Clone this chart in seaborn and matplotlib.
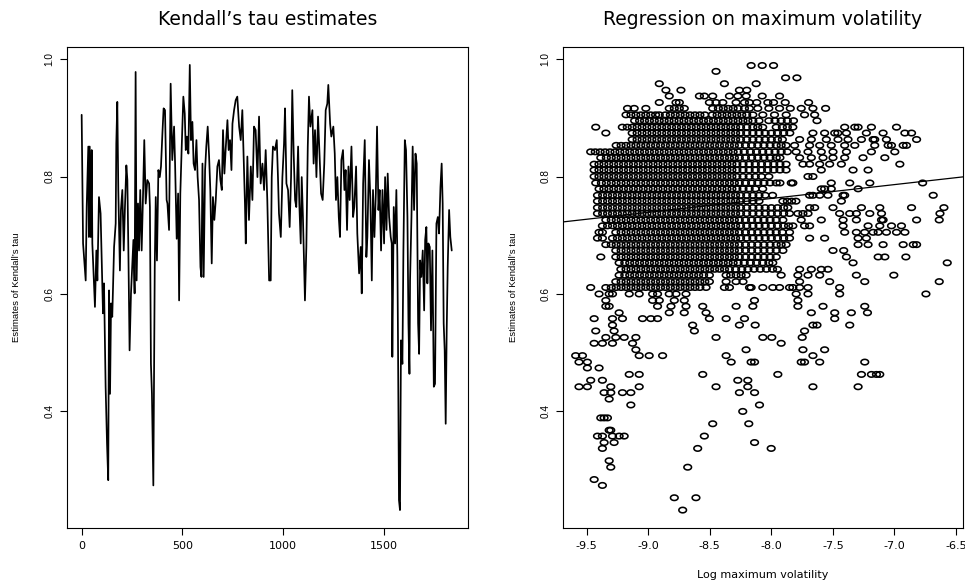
import numpy as np
import pandas as pd
import matplotlib
matplotlib.use("Agg")
import matplotlib.pyplot as plt
import seaborn as sns
from matplotlib.path import Path

# Kendall's tau estimate (turning points of the line)
series_day = [
    0, 7, 20, 25, 33, 36, 40, 45, 50, 53, 61, 66, 73, 78, 86, 94, 99, 106, 111, 119,
    126, 132, 136, 141, 146, 152, 161, 169, 172, 177, 182, 190, 195, 202, 209, 215, 222, 227, 232, 238,
    245, 252, 257, 263, 268, 273, 280, 285, 291, 298, 305, 311, 318, 326, 335, 339, 344, 349, 356, 363,
    368, 374, 381, 388, 394, 401, 407, 414, 422,
    426, 434, 442, 450, 459, 464, 472, 479, 484, 490, 497, 505, 512, 517, 523, 530, 537, 543, 550, 556,
    563, 570, 576, 583, 590, 595, 600, 606, 613, 619, 626, 633, 639, 646, 652, 659, 666, 674, 682, 689,
    696, 702, 709, 715, 724, 730, 737, 744, 749, 757, 765, 773, 782, 790, 798, 805, 811, 815, 823, 831,
    840, 848, 856, 864, 873, 881, 889, 898, 906, 914, 922,
    931, 939, 944, 950, 960, 969, 975, 980, 989, 997, 1005, 1010, 1017, 1025, 1033, 1040, 1046, 1053, 1060, 1066,
    1075, 1081, 1088, 1093, 1099, 1109, 1116, 1123, 1129, 1136, 1146, 1152, 1159, 1166, 1174, 1182, 1189, 1197, 1205, 1212,
    1220, 1225, 1234, 1240, 1250, 1257, 1263, 1270, 1277, 1283, 1290, 1298, 1305, 1311, 1318, 1325, 1331, 1340, 1348, 1354,
    1363, 1369, 1378, 1386, 1391, 1398, 1406, 1414,
    1419, 1427, 1434, 1441, 1447, 1454, 1461, 1467, 1474, 1480, 1487, 1494, 1502, 1507, 1514, 1520, 1527, 1535, 1540, 1543,
    1550, 1557, 1563, 1568, 1571, 1576, 1581, 1586, 1593, 1598, 1605, 1611, 1618, 1623, 1628, 1631, 1638, 1644, 1651, 1658,
    1664, 1671, 1676, 1681, 1687, 1694, 1701, 1706, 1712, 1717, 1722, 1729, 1735, 1742, 1749, 1755, 1762, 1769, 1775, 1782,
    1788, 1793, 1798, 1803, 1808, 1813, 1818, 1825, 1831, 1838,
]
series_tau = [
    0.905, 0.686, 0.623, 0.748, 0.851, 0.697, 0.851, 0.697, 0.845, 0.686, 0.618, 0.578, 0.674, 0.623, 0.765, 0.737, 0.663, 0.567, 0.618, 0.442,
    0.345, 0.283, 0.606, 0.430, 0.584, 0.561, 0.680, 0.720, 0.856, 0.927, 0.777, 0.640, 0.743, 0.777, 0.674, 0.748, 0.819, 0.794, 0.674, 0.504,
    0.601, 0.652, 0.692, 0.601, 0.978, 0.623, 0.754, 0.674, 0.777, 0.674, 0.771, 0.862, 0.754, 0.794, 0.788, 0.748, 0.481, 0.430, 0.274, 0.646,
    0.765, 0.657, 0.811, 0.799, 0.817, 0.873, 0.916, 0.913, 0.760,
    0.754, 0.709, 0.958, 0.828, 0.885, 0.822, 0.694, 0.771, 0.589, 0.771, 0.851, 0.936, 0.907, 0.845, 0.868, 0.839, 0.990, 0.862, 0.893, 0.822,
    0.811, 0.862, 0.799, 0.760, 0.646, 0.629, 0.822, 0.629, 0.811, 0.851, 0.885, 0.834, 0.777, 0.652, 0.765, 0.726, 0.760, 0.817, 0.828, 0.794,
    0.777, 0.879, 0.805, 0.845, 0.896, 0.845, 0.862, 0.811, 0.890, 0.913, 0.930, 0.936, 0.885, 0.862, 0.913, 0.828, 0.754, 0.686, 0.834, 0.726,
    0.817, 0.760, 0.885, 0.879, 0.799, 0.902, 0.788, 0.822, 0.777, 0.845, 0.760,
    0.623, 0.623, 0.799, 0.851, 0.845, 0.862, 0.799, 0.737, 0.697, 0.799, 0.856, 0.916, 0.788, 0.777, 0.714, 0.799, 0.947, 0.839, 0.760, 0.748,
    0.851, 0.754, 0.686, 0.799, 0.731, 0.589, 0.680, 0.851, 0.936, 0.885, 0.913, 0.822, 0.879, 0.799, 0.902, 0.834, 0.771, 0.760, 0.822, 0.913,
    0.924, 0.956, 0.890, 0.868, 0.885, 0.839, 0.760, 0.799, 0.731, 0.697, 0.828, 0.845, 0.777, 0.811, 0.709, 0.817, 0.760, 0.851, 0.731, 0.748,
    0.817, 0.703, 0.635, 0.680, 0.601, 0.788, 0.862, 0.663,
    0.697, 0.828, 0.760, 0.623, 0.777, 0.697, 0.771, 0.885, 0.743, 0.777, 0.674, 0.777, 0.686, 0.799, 0.709, 0.805, 0.731, 0.697, 0.686, 0.493,
    0.748, 0.686, 0.777, 0.663, 0.527, 0.249, 0.232, 0.521, 0.481, 0.674, 0.862, 0.845, 0.731, 0.550, 0.464, 0.623, 0.731, 0.851, 0.743, 0.839,
    0.822, 0.550, 0.498, 0.657, 0.629, 0.674, 0.572, 0.692, 0.714, 0.618, 0.686, 0.680, 0.538, 0.674, 0.442, 0.447, 0.720, 0.731, 0.703, 0.782,
    0.822, 0.754, 0.550, 0.504, 0.379, 0.538, 0.646, 0.743, 0.697, 0.674,
]

# right panel: the tau estimates sit on discrete levels, one row of points per level
tau_levels = [
    0.989, 0.979, 0.968, 0.958, 0.947, 0.937, 0.926, 0.916, 0.905, 0.895,
    0.884, 0.874, 0.863, 0.853, 0.842, 0.832, 0.821, 0.811, 0.800, 0.789,
    0.779, 0.768, 0.758, 0.747, 0.737, 0.726, 0.716, 0.705, 0.695, 0.684,
    0.674, 0.663, 0.653, 0.642, 0.632, 0.621, 0.611, 0.600, 0.589, 0.579,
    0.568, 0.558, 0.547, 0.537, 0.526, 0.516, 0.505, 0.495, 0.484, 0.474,
    0.463, 0.453, 0.442, 0.432, 0.421, 0.411, 0.400, 0.389, 0.379, 0.368,
    0.358, 0.347, 0.337, 0.316, 0.305, 0.284, 0.274, 0.253, 0.232,
]
log_vol_rows = [
    [-8.164, -8.074, -7.982],
    [-8.449],
    [-7.884, -7.792],
    [-8.91, -8.381, -8.123],
    [-8.856, -8.734, -8.259, -8.199],
    [-8.829, -8.584, -8.544, -8.476, -8.34, -8.272, -8.204, -8.074, -7.933],
    [-8.91, -8.774, -8.747, -8.503, -8.449, -8.394, -8.286, -8.218, -8.178, -8.118, -8.028, -7.982, -7.887, -7.697],
    [-9.168, -9.114, -9.019, -8.829, -8.788, -8.747, -8.707, -8.476, -8.43, -8.39, -8.35, -8.31, -8.27, -8.218,
     -8.178, -8.11, -8.02, -7.933, -7.846, -7.757, -7.662, -7.559],
    [-9.18, -9.14, -9.10, -9.06, -9.02, -8.98, -8.94, -8.91, -8.86, -8.82, -8.78, -8.74, -8.70, -8.66, -8.62,
     -8.58, -8.54, -8.48, -8.44, -8.40, -8.36, -8.32, -8.28, -8.24, -8.20, -8.15, -8.069, -7.974, -7.879, -7.73, -7.648],
    [-9.11, -9.07, -9.03, -8.99, -8.95, -8.91, -8.87, -8.83, -8.79, -8.75, -8.71, -8.67, -8.63, -8.59, -8.55,
     -8.51, -8.47, -8.43, -8.39, -8.35, -8.31, -8.27, -8.23, -8.19, -8.15, -8.10, -8.02, -7.97, -7.92, -7.87,
     -7.82, -7.629],
    [-9.426, -9.21, -9.17, -9.13, -9.09, -9.05, -9.01, -8.97, -8.93, -8.89, -8.85, -8.81, -8.77, -8.73, -8.69,
     -8.65, -8.61, -8.57, -8.53, -8.49, -8.45, -8.41, -8.37, -8.33, -8.29, -8.25, -8.20, -8.15, -8.11, -8.07,
     -7.96, -7.91, -7.87, -7.825, -7.404, -7.322, -7.295, -7.187, -6.983],
    [-9.344, -9.13, -9.09, -9.05, -9.01, -8.97, -8.93, -8.89, -8.85, -8.81, -8.77, -8.73, -8.69, -8.65, -8.61,
     -8.57, -8.53, -8.49, -8.45, -8.41, -8.37, -8.33, -8.29, -8.25, -8.20, -8.15, -8.10, -8.05, -8.00, -7.95,
     -7.90, -7.85, -7.662, -7.567, -7.485, -7.46, -7.39, -7.228, -7.092, -6.915, -6.861],
    [-9.13, -9.09, -9.05, -9.01, -8.97, -8.93, -8.89, -8.85, -8.81, -8.77, -8.73, -8.69, -8.65, -8.61, -8.57,
     -8.53, -8.49, -8.45, -8.41, -8.37, -8.33, -8.29, -8.25, -8.20, -8.15, -8.10, -8.05, -8.00, -7.95, -7.91,
     -7.77, -7.675, -7.553, -7.458, -7.377, -7.268, -7.173, -7.16, -7.065, -6.82],
    [-9.26, -9.22, -9.18, -9.14, -9.10, -9.06, -9.02, -8.98, -8.94, -8.90, -8.86, -8.82, -8.78, -8.74, -8.70,
     -8.66, -8.62, -8.58, -8.54, -8.50, -8.46, -8.42, -8.38, -8.34, -8.30, -8.26, -8.21, -8.16, -8.11, -8.06,
     -8.01, -7.96, -7.92, -7.88, -7.811, -7.689, -7.607, -7.513, -7.404, -7.322, -7.16, -7.051, -7.024, -6.929,
     -6.902],
    [-9.467, -9.43, -9.39, -9.35, -9.31, -9.27, -9.23, -9.19, -9.15, -9.11, -9.07, -9.03, -8.99, -8.95, -8.91,
     -8.87, -8.83, -8.79, -8.75, -8.71, -8.67, -8.63, -8.59, -8.55, -8.51, -8.47, -8.43, -8.39, -8.35, -8.31,
     -8.27, -8.22, -8.17, -8.12, -8.07, -8.02, -7.97, -7.92, -7.87, -7.798, -7.702, -7.594, -7.499, -7.39,
     -7.187, -6.997],
    [-9.385, -9.34, -9.30, -9.26, -9.22, -9.18, -9.14, -9.10, -9.06, -9.02, -8.98, -8.94, -8.90, -8.86, -8.82,
     -8.78, -8.74, -8.70, -8.66, -8.62, -8.58, -8.54, -8.50, -8.46, -8.42, -8.38, -8.34, -8.30, -8.26, -8.21,
     -8.16, -8.11, -8.06, -8.01, -7.96, -7.93, -7.77, -7.675, -7.58, -7.499, -7.404, -7.255, -7.078],
    [-9.439, -9.40, -9.36, -9.32, -9.28, -9.24, -9.20, -9.16, -9.12, -9.08, -9.04, -9.00, -8.96, -8.92, -8.88,
     -8.84, -8.80, -8.76, -8.72, -8.68, -8.64, -8.60, -8.56, -8.52, -8.48, -8.44, -8.40, -8.36, -8.32, -8.28,
     -8.23, -8.18, -8.13, -8.08, -8.03, -7.98, -7.93, -7.88, -7.743, -7.689, -7.607, -7.526, -7.431, -6.956],
    [-9.439, -9.40, -9.36, -9.32, -9.28, -9.24, -9.20, -9.16, -9.12, -9.08, -9.04, -9.00, -8.96, -8.92, -8.88,
     -8.84, -8.80, -8.76, -8.72, -8.68, -8.64, -8.60, -8.56, -8.52, -8.48, -8.44, -8.40, -8.36, -8.32, -8.28,
     -8.23, -8.18, -8.13, -8.08, -8.03, -7.98, -7.93, -7.88, -7.594, -7.336, -7.214],
    [-9.439, -9.40, -9.36, -9.32, -9.28, -9.24, -9.20, -9.16, -9.12, -9.08, -9.04, -9.00, -8.96, -8.92, -8.88,
     -8.84, -8.80, -8.76, -8.72, -8.68, -8.64, -8.60, -8.56, -8.52, -8.48, -8.44, -8.40, -8.36, -8.32, -8.28,
     -8.23, -8.18, -8.13, -8.08, -8.02, -7.702, -7.662],
    [-9.426, -9.38, -9.34, -9.30, -9.26, -9.22, -9.18, -9.14, -9.10, -9.06, -9.02, -8.98, -8.94, -8.90, -8.86,
     -8.82, -8.78, -8.74, -8.70, -8.66, -8.62, -8.58, -8.54, -8.50, -8.46, -8.42, -8.38, -8.34, -8.30, -8.26,
     -8.21, -8.16, -8.11, -8.06, -8.01, -7.96, -7.93, -7.838, -7.825, -7.513, -7.363, -7.2, -6.771],
    [-9.399, -9.36, -9.32, -9.28, -9.24, -9.20, -9.16, -9.12, -9.08, -9.04, -9.00, -8.96, -8.92, -8.88, -8.84,
     -8.80, -8.76, -8.72, -8.68, -8.64, -8.60, -8.56, -8.52, -8.48, -8.44, -8.40, -8.36, -8.32, -8.28, -8.23,
     -8.18, -8.13, -8.07, -7.594, -7.567, -7.513, -7.295],
    [-9.412, -9.37, -9.33, -9.29, -9.25, -9.21, -9.17, -9.13, -9.09, -9.05, -9.01, -8.97, -8.93, -8.89, -8.85,
     -8.81, -8.77, -8.73, -8.69, -8.65, -8.61, -8.57, -8.53, -8.49, -8.45, -8.41, -8.37, -8.33, -8.29, -8.25,
     -8.20, -8.15, -8.10, -8.05, -7.99, -7.689, -7.662, -7.607, -7.54, -7.417, -7.404, -6.685],
    [-9.412, -9.37, -9.33, -9.29, -9.25, -9.21, -9.17, -9.13, -9.09, -9.05, -9.01, -8.97, -8.93, -8.89, -8.85,
     -8.81, -8.77, -8.73, -8.69, -8.65, -8.61, -8.57, -8.53, -8.49, -8.45, -8.41, -8.37, -8.33, -8.29, -8.25,
     -8.20, -8.15, -8.10, -7.906, -7.87, -7.835, -7.80, -7.431],
    [-9.412, -9.37, -9.33, -9.29, -9.25, -9.21, -9.17, -9.13, -9.09, -9.05, -9.01, -8.97, -8.93, -8.89, -8.85,
     -8.81, -8.77, -8.73, -8.69, -8.65, -8.61, -8.57, -8.53, -8.49, -8.45, -8.41, -8.37, -8.33, -8.29, -8.25,
     -8.20, -8.15, -8.10, -8.05, -8.00, -7.95, -7.90, -7.866, -7.689, -7.648, -7.499, -7.268, -7.119, -6.861,
     -6.598],
    [-9.412, -9.37, -9.33, -9.29, -9.25, -9.21, -9.17, -9.13, -9.09, -9.05, -9.01, -8.97, -8.93, -8.89, -8.85,
     -8.81, -8.77, -8.73, -8.69, -8.65, -8.61, -8.57, -8.53, -8.49, -8.45, -8.41, -8.37, -8.33, -8.29, -8.25,
     -8.20, -8.15, -8.10, -8.05, -8.00, -7.95, -7.90, -7.852, -7.784, -7.743, -7.702, -7.445, -7.363, -7.309,
     -7.2, -7.105, -6.63],
    [-9.344, -9.30, -9.26, -9.22, -9.18, -9.14, -9.10, -9.06, -9.02, -8.98, -8.94, -8.90, -8.86, -8.82, -8.78,
     -8.74, -8.70, -8.66, -8.62, -8.58, -8.54, -8.50, -8.46, -8.42, -8.38, -8.34, -8.30, -8.26, -8.21, -8.16,
     -8.11, -8.06, -8.01, -7.96, -7.906, -7.757, -7.594, -7.417, -7.309, -7.105, -7.092, -6.82, -6.636],
    [-9.372, -9.33, -9.29, -9.25, -9.21, -9.17, -9.13, -9.09, -9.05, -9.01, -8.97, -8.93, -8.89, -8.85, -8.81,
     -8.77, -8.73, -8.69, -8.65, -8.61, -8.57, -8.53, -8.49, -8.45, -8.41, -8.37, -8.33, -8.29, -8.25, -8.20,
     -8.15, -8.10, -8.05, -8.00, -7.95, -7.90, -7.86, -7.825, -7.73, -7.689, -7.417, -7.214, -7.119, -7.024,
     -6.943],
    [-9.399, -9.372, -9.263, -9.22, -9.18, -9.14, -9.10, -9.06, -9.02, -8.98, -8.94, -8.90, -8.86, -8.82, -8.78,
     -8.74, -8.70, -8.66, -8.62, -8.58, -8.54, -8.50, -8.46, -8.42, -8.38, -8.34, -8.30, -8.26, -8.21, -8.16,
     -8.11, -8.06, -8.01, -7.96, -7.91, -7.852, -7.404, -7.309, -7.241, -7.173, -7.132, -7.065, -6.983, -6.915],
    [-9.412, -9.372, -9.29, -9.25, -9.21, -9.17, -9.13, -9.09, -9.05, -9.01, -8.97, -8.93, -8.89, -8.85, -8.81,
     -8.77, -8.73, -8.69, -8.65, -8.61, -8.57, -8.53, -8.49, -8.45, -8.41, -8.37, -8.33, -8.29, -8.25, -8.20,
     -8.15, -8.10, -8.05, -8.00, -7.95, -7.90, -7.852, -7.689, -7.567, -7.295, -7.228],
    [-9.344, -9.30, -9.26, -9.22, -9.18, -9.14, -9.10, -9.06, -9.02, -8.98, -8.94, -8.90, -8.86, -8.82, -8.78,
     -8.74, -8.70, -8.66, -8.62, -8.58, -8.54, -8.50, -8.46, -8.42, -8.38, -8.34, -8.30, -8.26, -8.21, -8.16,
     -8.11, -8.06, -8.01, -7.96, -7.92, -7.88, -7.295, -7.214, -7.092, -6.929, -6.847, -6.82],
    [-9.263, -9.22, -9.18, -9.14, -9.10, -9.06, -9.02, -8.98, -8.94, -8.90, -8.86, -8.82, -8.78, -8.74, -8.70,
     -8.66, -8.62, -8.58, -8.54, -8.50, -8.46, -8.42, -8.38, -8.34, -8.30, -8.26, -8.21, -8.16, -8.11, -8.06,
     -8.01, -7.96, -7.906, -7.499, -7.412],
    [-9.385, -9.263, -9.22, -9.18, -9.14, -9.10, -9.06, -9.02, -8.98, -8.94, -8.90, -8.86, -8.82, -8.78, -8.74,
     -8.70, -8.66, -8.62, -8.58, -8.54, -8.50, -8.46, -8.42, -8.38, -8.34, -8.30, -8.26, -8.21, -8.16, -8.11,
     -8.06, -8.01, -7.96, -7.39, -7.132, -7.078, -6.907],
    [-9.236, -9.19, -9.15, -9.11, -9.07, -9.03, -8.99, -8.95, -8.91, -8.87, -8.83, -8.79, -8.75, -8.71, -8.67,
     -8.63, -8.59, -8.55, -8.51, -8.47, -8.43, -8.39, -8.35, -8.31, -8.27, -8.22, -8.17, -8.12, -8.07, -8.02,
     -7.988, -7.336, -6.571],
    [-9.222, -9.18, -9.14, -9.10, -9.06, -9.02, -8.98, -8.94, -8.90, -8.86, -8.82, -8.78, -8.74, -8.70, -8.66,
     -8.62, -8.58, -8.54, -8.50, -8.46, -8.42, -8.38, -8.34, -8.29, -8.24, -8.19, -8.14, -8.09, -8.04, -7.99,
     -7.95, -7.77, -7.675, -7.594, -7.54],
    [-9.236, -9.19, -9.15, -9.11, -9.07, -9.03, -8.99, -8.95, -8.91, -8.87, -8.83, -8.79, -8.75, -8.71, -8.67,
     -8.63, -8.59, -8.55, -8.503, -8.367, -8.33, -8.286, -8.245, -8.205, -7.92, -7.784, -7.702, -7.607, -7.309,
     -7.005],
    [-9.263, -9.22, -9.18, -9.14, -9.10, -9.06, -9.02, -8.98, -8.94, -8.90, -8.86, -8.82, -8.78, -8.74, -8.70,
     -8.66, -8.62, -8.58, -8.54, -8.503, -8.367, -8.286, -8.23, -7.77, -7.526, -7.241, -6.636],
    [-9.467, -9.344, -9.30, -9.26, -9.22, -9.18, -9.14, -9.10, -9.06, -9.02, -8.98, -8.94, -8.90, -8.86, -8.82,
     -8.78, -8.74, -8.70, -8.66, -8.62, -8.58, -8.53, -8.381, -8.34, -8.177, -8.164, -8.069, -7.988, -7.933,
     -7.852, -7.825, -7.77, -7.702, -7.445],
    [-9.399, -9.317, -9.29, -9.154, -9.073, -8.964, -8.924, -8.829, -8.774, -8.693, -7.798, -7.702, -7.445, -6.744],
    [-9.344, -8.964, -8.91, -8.788, -8.707, -8.137, -7.784],
    [-9.344, -9.317, -8.924, -8.815, -8.693, -8.557, -8.286, -8.15, -7.784, -7.58, -7.241],
    [-9.236, -8.829, -8.707, -8.53, -7.675, -7.485, -7.35, -7.219],
    [-9.439, -9.29, -9.209, -9.046, -8.978, -8.924, -8.503, -8.367, -8.218, -7.485],
    [-9.29, -8.639, -8.259, -8.131, -7.662, -7.629, -7.363],
    [-9.426, -9.277, -8.625, -7.73],
    [-9.344, -9.263, -9.195, -9.1, -8.449, -8.069, -7.996, -7.749],
    [-9.439, -9.372, -9.29, -9.127, -7.92],
    [-9.1, -8.205, -7.743, -7.567],
    [-9.589, -9.534, -9.073, -8.992, -8.883, -8.367, -7.662],
    [-9.562, -9.494, -8.326, -8.164, -8.136, -7.757, -7.73, -7.607, -7.241],
    [-9.494, -9.399],
    [-9.154, -9.073, -8.557, -7.947, -7.268, -7.187, -7.146, -7.119],
    [-9.467, -9.372, -8.272, -8.191],
    [-9.562, -9.494, -9.304, -9.073, -8.449, -8.191, -7.662, -7.295],
    [-9.358, -9.304, -9.209, -9.141, -8.259, -8.136],
    [-9.317],
    [-9.141, -8.096],
    [-8.232],
    [-9.385, -9.358, -9.331],
    [-8.476, -8.183],
    [-9.317, -9.304],
    [-9.412, -9.372, -9.29, -9.236, -9.195, -8.544],
    [-9.358, -9.277, -8.136],
    [-9.372, -8.598, -8.001],
    [-9.317],
    [-9.304, -8.679],
    [-9.439],
    [-9.372],
    [-8.788, -8.612],
    [-8.72],
]

# least squares line drawn on the right panel
fit_intercept = 0.9514
fit_slope = 0.0236

left_xticks = [0, 500, 1000, 1500]
right_xticks = [-9.5, -9.0, -8.5, -8.0, -7.5, -7.0, -6.5]
right_xticklabels = ["-9.5", "-9.0", "-8.5", "-8.0", "-7.5", "-7.0", "-6.5"]
yticks = [0.4, 0.6, 0.8, 1.0]
yticklabels = ["0.4", "0.6", "0.8", "1.0"]

sns.set_style("ticks")
plt.rcParams["font.family"] = ["DejaVu Sans"]
plt.rcParams["axes.unicode_minus"] = False
plt.rcParams["text.color"] = "black"
plt.rcParams["axes.labelcolor"] = "black"

ts = pd.DataFrame({"day": series_day, "tau": series_tau})
pts = pd.DataFrame(
    [(v, t) for t, row in zip(tau_levels, log_vol_rows) for v in row],
    columns=["logvol", "tau"],
)

fig = plt.figure(figsize=(9.65, 5.81), dpi=100)
ax1 = fig.add_axes([67 / 965, 53 / 581, 401 / 965, 481 / 581])
ax2 = fig.add_axes([563 / 965, 53 / 581, 400 / 965, 481 / 581])

sns.lineplot(data=ts, x="day", y="tau", ax=ax1, color="black", linewidth=1.25,
             estimator=None, sort=False)

# R's open circle, a bit wider than tall in the picture
theta = np.linspace(0, 2 * np.pi, 41)
ring = Path(np.column_stack([np.cos(theta), 0.72 * np.sin(theta)]), closed=True)
sns.scatterplot(data=pts, x="logvol", y="tau", ax=ax2, marker=ring, s=30,
                color="black", facecolor="none", edgecolor="black", linewidth=1.15)
ax2.axline((0, fit_intercept), slope=fit_slope, color="black", linewidth=0.9)

ax1.set_xlim(-72.8, 1918.8)
ax2.set_xlim(-9.692, -6.443)
ax1.set_xticks(left_xticks)
ax1.set_xticklabels([str(v) for v in left_xticks])
ax2.set_xticks(right_xticks)
ax2.set_xticklabels(right_xticklabels)

for ax in (ax1, ax2):
    ax.set_ylim(0.2015, 1.0205)
    ax.set_yticks(yticks)
    ax.set_yticklabels(yticklabels, rotation=90, va="center",
                       family="Liberation Sans", fontsize=7.2)
    for sp in ax.spines.values():
        sp.set_visible(True)
        sp.set_color("black")
        sp.set_linewidth(0.8)
    ax.tick_params(direction="out", length=5, width=0.8, color="black",
                   labelcolor="black")
    ax.tick_params(axis="x", labelsize=8, pad=4.5)
    ax.tick_params(axis="y", pad=4)
    ax.set_xlabel("")
    ax.set_ylabel("Estimates of Kendall\u2019s tau", family="Liberation Sans",
                  fontsize=6.8, va="center", color="black")
    # label sits three text lines left of the frame, centred on it (R default)
    ax.yaxis.set_label_coords(-50 / 400, 0.5)

ax1.set_title("Kendall\u2019s tau estimates", fontsize=13.5, pad=16, color="black")
ax2.set_title("Regression on maximum volatility", fontsize=13.5, pad=16, color="black")
ax2.set_xlabel("Log maximum volatility", fontsize=8, va="center", color="black")
ax2.xaxis.set_label_coords(0.5, -47 / 481)

fig.savefig("out.png", dpi=100, facecolor="white")
